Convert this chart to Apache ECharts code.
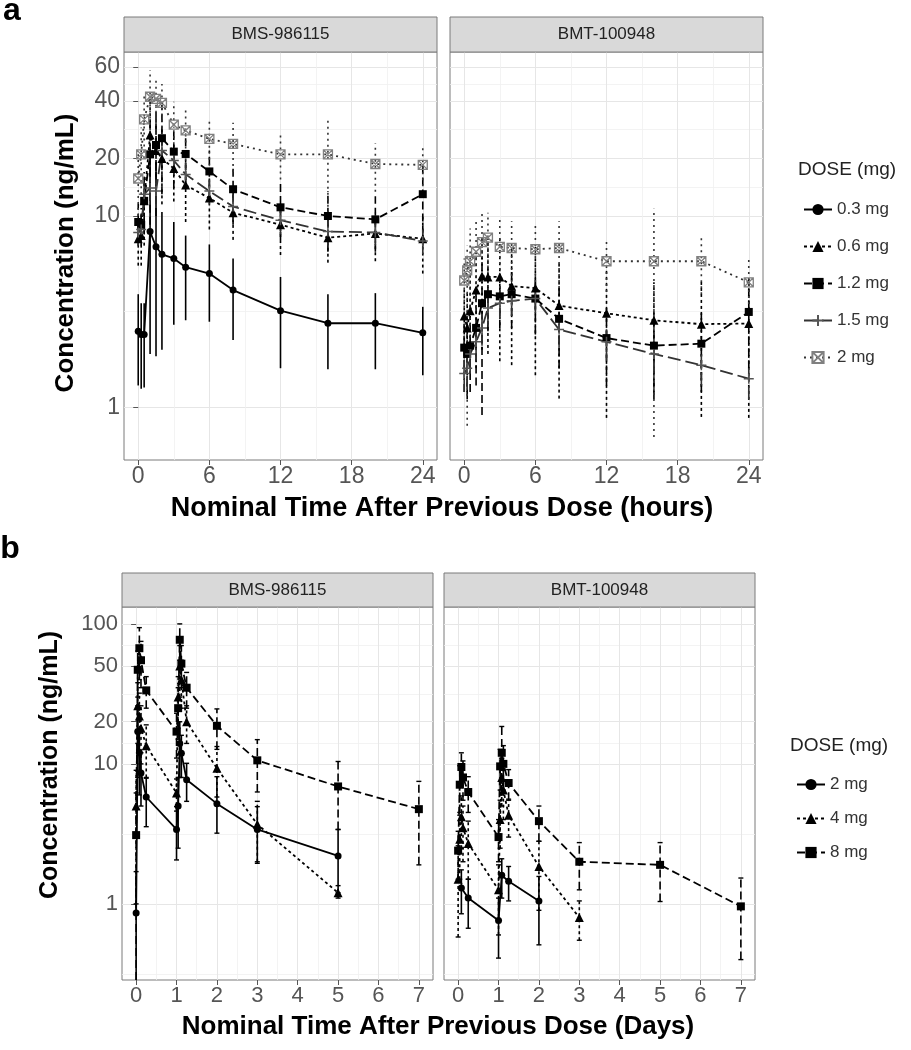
<!DOCTYPE html>
<html><head><meta charset="utf-8">
<script src="https://cdn.jsdelivr.net/npm/echarts@6/dist/echarts.min.js"></script>
<style>html,body{margin:0;padding:0;background:#fff}#c{width:911px;height:1050px}</style>
</head><body><div id="c"></div>
<script>
const FONT = '"Liberation Sans", Arial, Helvetica, sans-serif';

// ---------- Panel a : hours ----------
const timesA = [0, 0.25, 0.5, 1, 1.5, 2, 3, 4, 6, 8, 12, 16, 20, 24];
const xTicksA = [0, 6, 12, 18, 24];
const xMinorA = [3, 9, 15, 21];
const yTicksA = [1, 10, 20, 40, 60];
const yMinorA = [3.16, 14.1, 28.3, 49];
const dosesA = ['0.3 mg', '0.6 mg', '1.2 mg', '1.5 mg', '2 mg'];

// BMS-986115 (panel a)
const a_bms_03_mean = [2.5, 2.4, 2.4, 8.3, 6.9, 6.3, 6.0, 5.4, 5.0, 4.1, 3.2, 2.75, 2.75, 2.45];
const a_bms_03_lo   = [1.3, 1.25, 1.27, 1.9, 1.85, 2.0, 2.7, 2.85, 2.8, 2.25, 1.6, 1.58, 1.58, 1.47];
const a_bms_03_hi   = [3.9, 3.5, 3.5, 22, 19, 10.5, 9.3, 7.9, 7.1, 6.0, 4.8, 3.9, 3.95, 3.35];
const a_bms_06_mean = [7.6, 7.9, 12, 26.5, 22, 20, 17.7, 14.5, 12.4, 10.4, 9.0, 7.7, 8.1, 7.6];
const a_bms_06_lo   = [5.5, 5.5, 7, 13, 12, 11.5, 11.9, 9.3, 8.5, 7.5, 6.25, 5.7, 5.8, 5.0];
const a_bms_06_hi   = [9.7, 10.3, 17, 40, 32, 28.5, 23.5, 19.7, 16.3, 13.3, 11.7, 9.7, 10.4, 10.2];
const a_bms_12_mean = [9.3, 9.0, 12, 21, 23.5, 25.5, 21.7, 21.1, 17.1, 13.8, 11.1, 10.0, 9.6, 13.0];
const a_bms_12_lo   = [7, 7, 8, 9, 10, 13, 14, 15, 12, 9, 7.5, 6.5, 6.5, 7];
const a_bms_12_hi   = [11.6, 11, 16, 33, 37, 38, 29, 27, 22, 18.6, 14.7, 13.5, 12.7, 19];
const a_bms_15_mean = [8.2, 8.5, 13, 14, 13.5, 22, 19.5, 16.5, 13.5, 11.2, 9.5, 8.3, 8.2, 7.4];
const a_bms_15_lo   = [7, 7.2, 11, 12, 11.5, 19, 16.5, 14, 11.5, 9.5, 8, 7, 7, 6.3];
const a_bms_15_hi   = [9.4, 9.8, 15, 16, 15.5, 25, 22.5, 19, 15.5, 12.9, 11, 9.6, 9.4, 8.5];
const a_bms_2_mean  = [15.7, 21, 32, 42, 41, 39, 30, 28, 25.3, 23.8, 21, 21, 18.7, 18.5];
const a_bms_2_lo    = [10, 13, 20, 26, 30, 29, 20.5, 19.5, 18.3, 17, 15.5, 9, 13.4, 14.3];
const a_bms_2_hi    = [21, 29, 44, 58, 52, 49, 39.6, 36.3, 32.4, 30.7, 26.5, 33, 24, 22.7];

// BMT-100948 (panel a)
const a_bmt_06_mean = [3.0, 2.6, 3.2, 4.1, 4.85, 4.8, 4.8, 4.3, 4.2, 3.4, 3.1, 2.85, 2.72, 2.74];
const a_bmt_06_lo   = [1.8, 1.2, 1.5, 1.6, 2.0, 1.9, 1.74, 1.66, 1.47, 1.11, 0.88, 1.2, 0.89, 0.88];
const a_bmt_06_hi   = [4.2, 4.0, 4.9, 6.6, 7.7, 7.7, 7.9, 6.9, 6.9, 5.7, 5.3, 4.5, 4.55, 4.6];
const a_bmt_12_mean = [2.05, 1.9, 2.1, 2.6, 3.5, 3.9, 3.8, 3.9, 3.7, 2.9, 2.3, 2.1, 2.15, 3.15];
const a_bmt_12_lo   = [1.2, 1.1, 1.2, 1.3, 0.91, 2.5, 2.6, 2.6, 2.4, 1.6, 1.3, 1.1, 1.2, 1.6];
const a_bmt_12_hi   = [2.9, 2.7, 3.0, 3.9, 6.1, 5.3, 5.0, 5.2, 5.0, 4.2, 3.3, 3.1, 3.1, 4.7];
const a_bmt_15_mean = [1.5, 1.6, 1.9, 2.2, 2.6, 3.3, 3.5, 3.6, 3.7, 2.55, 2.2, 1.9, 1.66, 1.41];
const a_bmt_15_lo   = [1.2, 1.25, 1.5, 1.75, 2.1, 2.7, 2.9, 3.0, 3.1, 2.05, 1.75, 1.5, 1.3, 1.1];
const a_bmt_15_hi   = [1.8, 1.95, 2.3, 2.65, 3.1, 3.9, 4.1, 4.2, 4.3, 3.05, 2.65, 2.3, 2.0, 1.7];
const a_bmt_2_mean  = [4.6, 5.2, 5.8, 6.5, 7.3, 7.7, 6.9, 6.8, 6.7, 6.8, 5.8, 5.8, 5.8, 4.5];
const a_bmt_2_lo    = [1.5, 0.8, 1.5, 3.3, 4.2, 5.0, 4.2, 4.2, 4.2, 4.2, 4.0, 0.7, 3.9, 3.0];
const a_bmt_2_hi    = [6.0, 7.0, 8.6, 9.7, 10.4, 10.4, 9.6, 9.4, 9.2, 9.4, 7.6, 10.9, 7.7, 6.0];

// ---------- Panel b : days ----------
const timesB = [0, 0.04, 0.08, 0.12, 0.25, 1, 1.04, 1.08, 1.12, 1.25, 2, 3, 5, 7];
const timesB_bmt2 = [0.08, 0.25, 1, 1.08, 1.25, 2];
const xTicksB = [0, 1, 2, 3, 4, 5, 6, 7];
const xMinorB = [0.5, 1.5, 2.5, 3.5, 4.5, 5.5, 6.5];
const yTicksB = [1, 10, 20, 50, 100];
const yMinorB = [0.316, 3.16, 14.1, 31.6, 70.7];
const dosesB = ['2 mg ', '4 mg', '8 mg'];

const b_bms_2_mean = [0.86, 17, 12, 8.6, 5.8, 3.4, 5, 14, 11.9, 7.7, 5.2, 3.4, 2.2];
const b_bms_2_lo   = [0, 8, 6, 5, 3.56, 2.06, 2.5, 8, 8, 5.4, 3.2, 1.95, 1.2];
const b_bms_2_hi   = [1.7, 26, 18, 12, 7.9, 4.95, 8, 20, 16, 10.1, 8.1, 4.95, 3.4];
const b_bms_4_mean = [5, 26, 22, 18, 13.5, 6.2, 30, 50, 40, 20, 9.3, 3.7, 1.2];
const b_bms_4_lo   = [1, 14, 12, 10, 8, 4.6, 18, 30, 25, 14, 5.8, 2.0, 1.1];
const b_bms_4_hi   = [9, 38, 32, 26, 19, 7.8, 42, 70, 55, 26, 13.3, 5.4, 1.35];
const b_bms_8_mean = [3.1, 47, 67, 55, 33.5, 17, 25, 77, 52, 35, 18.7, 10.6, 6.9, 4.75];
const b_bms_8_lo   = [0, 30, 40, 35, 25, 11, 15, 55, 35, 25, 12.7, 6.3, 3.4, 1.9];
const b_bms_8_hi   = [6.2, 64, 94, 75, 42, 23, 35, 100, 70, 45, 24.7, 14.9, 10.4, 7.5];

const b_bmt_2_mean = [1.3, 1.1, 0.76, 1.6, 1.45, 1.05];
const b_bmt_2_lo   = [0.85, 0.67, 0.41, 1.1, 1.05, 0.51];
const b_bmt_2_hi   = [1.75, 1.5, 1.1, 2.1, 1.85, 1.57];
const b_bmt_4_mean = [1.5, 2.9, 4.2, 3.5, 2.7, 1.26, 4, 8, 6.5, 4.3, 1.85, 0.8];
const b_bmt_4_lo   = [0.58, 1.5, 2.5, 2.0, 1.5, 0.6, 2.5, 5, 4, 3.0, 0.9, 0.55];
const b_bmt_4_hi   = [2.6, 4.3, 5.9, 5.0, 3.9, 1.9, 5.5, 11, 9, 5.6, 2.8, 1.05];
const b_bmt_8_mean = [2.4, 7.1, 9.5, 8, 6.3, 3.0, 9.6, 12, 10, 7.3, 3.9, 2.0, 1.9, 0.96];
const b_bmt_8_lo   = [1.5, 4.5, 7, 5.5, 4.5, 2.0, 6.5, 6, 6.5, 5.5, 2.8, 1.26, 1.04, 0.4];
const b_bmt_8_hi   = [3.3, 9.7, 12, 10.5, 8.1, 4.0, 12.7, 18.5, 13.5, 9.1, 5.0, 2.74, 2.74, 1.53];

// ---------- styles ----------
const SYM_PLUS = 'path://M5,0V10M0,5H10';
const SYM_SQX = 'path://M0,0H10V10H0ZM0,0L10,10M10,0L0,10';
const STY = {
  '0.3 mg': {symbol: 'circle', size: 7, fill: '#000', stroke: '#000', line: '#000', dash: 'solid'},
  '0.6 mg': {symbol: 'triangle', size: 9, fill: '#000', stroke: '#000', line: '#000', dash: [3, 3]},
  '1.2 mg': {symbol: 'rect', size: 8, fill: '#000', stroke: '#000', line: '#000', dash: [8, 4]},
  '1.5 mg': {symbol: SYM_PLUS, size: 10, fill: 'rgba(0,0,0,0)', stroke: '#555', line: '#333', dash: [13, 5], bw: 1.5},
  '2 mg':   {symbol: SYM_SQX, size: 9, fill: 'rgba(0,0,0,0)', stroke: '#808080', line: '#333', dash: [2, 4], bw: 1.3},
  '2 mg ':  {symbol: 'circle', size: 7, fill: '#000', stroke: '#000', line: '#000', dash: 'solid'},
  '4 mg':   {symbol: 'triangle', size: 9, fill: '#000', stroke: '#000', line: '#000', dash: [3, 3]},
  '8 mg':   {symbol: 'rect', size: 8, fill: '#000', stroke: '#000', line: '#000', dash: [8, 4]}
};

// ---------- layout ----------
const GRIDS = [
  {left: 124, top: 52, width: 313, height: 408},
  {left: 450, top: 52, width: 313, height: 408},
  {left: 122, top: 607, width: 311, height: 373},
  {left: 444, top: 607, width: 311, height: 373}
];
const YMIN_A = 0.53, YMAX_A = 72, YMIN_B = 0.286, YMAX_B = 132;

function xAxes(gi, min, max, ticks, minor, fs) {
  return [
    {type: 'value', gridIndex: gi, min, max, axisLine: {show: false},
     axisTick: {show: true, length: 5, lineStyle: {color: '#555', width: 1}, customValues: ticks},
     axisLabel: {customValues: ticks, color: '#555', fontSize: fs, fontFamily: FONT, margin: 5},
     splitLine: {show: true, lineStyle: {color: '#e6e6e6', width: 1}}},
    {type: 'value', gridIndex: gi, min, max, position: 'bottom', axisLine: {show: false},
     axisTick: {show: false, customValues: minor},
     axisLabel: {show: false, customValues: minor},
     splitLine: {show: true, lineStyle: {color: '#f0f0f0', width: 0.8}}}
  ];
}
function yAxes(gi, min, max, ticks, minor, fs, showLab) {
  return [
    {type: 'log', logBase: 10, gridIndex: gi, min, max, axisLine: {show: false},
     axisTick: {show: showLab, length: 5, lineStyle: {color: '#555', width: 1}, customValues: ticks},
     axisLabel: {show: showLab, customValues: ticks, color: '#555', fontSize: fs, fontFamily: FONT, margin: 4},
     splitLine: {show: true, lineStyle: {color: '#e6e6e6', width: 1}}},
    {type: 'log', logBase: 10, gridIndex: gi, min, max, position: 'left', axisLine: {show: false},
     axisTick: {show: false, customValues: minor},
     axisLabel: {show: false, customValues: minor},
     splitLine: {show: true, lineStyle: {color: '#f0f0f0', width: 0.8}}}
  ];
}

const series = [];
function add(gi, name, times, mean, lo, hi, yMin, cap) {
  const s = STY[name];
  const t = times.slice(0, mean.length);
  series.push({
    type: 'custom', name: name + '_err', xAxisIndex: gi * 2, yAxisIndex: gi * 2,
    silent: true, z: 2, clip: true,
    data: t.map((x, i) => [x, Math.max(lo[i], yMin), hi[i], lo[i] > yMin ? 1 : 0]),
    encode: {x: 0, y: [1, 2]},
    renderItem(params, api) {
      const x = api.value(0);
      const a = api.coord([x, api.value(1)]);
      const b = api.coord([x, api.value(2)]);
      const st = {stroke: s.line, lineWidth: 1.6, lineDash: s.dash === 'solid' ? null : s.dash};
      const ch = [{type: 'line', shape: {x1: a[0], y1: a[1], x2: b[0], y2: b[1]}, style: st}];
      if (cap) {
        ch.push({type: 'line', shape: {x1: b[0] - cap, y1: b[1], x2: b[0] + cap, y2: b[1]}, style: {stroke: s.line, lineWidth: 1.4}});
        if (api.value(3)) ch.push({type: 'line', shape: {x1: a[0] - cap, y1: a[1], x2: a[0] + cap, y2: a[1]}, style: {stroke: s.line, lineWidth: 1.4}});
      }
      return {type: 'group', children: ch};
    }
  });
  series.push({
    type: 'line', name, xAxisIndex: gi * 2, yAxisIndex: gi * 2, z: 3,
    data: t.map((x, i) => [x, mean[i]]),
    symbol: s.symbol, symbolSize: s.size, showSymbol: true,
    lineStyle: {color: s.line, width: 1.8, type: s.dash},
    itemStyle: {color: s.fill, borderColor: s.stroke, borderWidth: s.bw || 0},
    emphasis: {disabled: true}
  });
}

add(0, '0.3 mg', timesA, a_bms_03_mean, a_bms_03_lo, a_bms_03_hi, YMIN_A, 0);
add(0, '0.6 mg', timesA, a_bms_06_mean, a_bms_06_lo, a_bms_06_hi, YMIN_A, 0);
add(0, '1.2 mg', timesA, a_bms_12_mean, a_bms_12_lo, a_bms_12_hi, YMIN_A, 0);
add(0, '1.5 mg', timesA, a_bms_15_mean, a_bms_15_lo, a_bms_15_hi, YMIN_A, 0);
add(0, '2 mg',   timesA, a_bms_2_mean,  a_bms_2_lo,  a_bms_2_hi,  YMIN_A, 0);
add(1, '0.6 mg', timesA, a_bmt_06_mean, a_bmt_06_lo, a_bmt_06_hi, YMIN_A, 0);
add(1, '1.2 mg', timesA, a_bmt_12_mean, a_bmt_12_lo, a_bmt_12_hi, YMIN_A, 0);
add(1, '1.5 mg', timesA, a_bmt_15_mean, a_bmt_15_lo, a_bmt_15_hi, YMIN_A, 0);
add(1, '2 mg',   timesA, a_bmt_2_mean,  a_bmt_2_lo,  a_bmt_2_hi,  YMIN_A, 0);
add(2, '2 mg ',  timesB, b_bms_2_mean, b_bms_2_lo, b_bms_2_hi, YMIN_B, 2.5);
add(2, '4 mg',   timesB, b_bms_4_mean, b_bms_4_lo, b_bms_4_hi, YMIN_B, 2.5);
add(2, '8 mg',   timesB, b_bms_8_mean, b_bms_8_lo, b_bms_8_hi, YMIN_B, 2.5);
add(3, '2 mg ',  timesB_bmt2, b_bmt_2_mean, b_bmt_2_lo, b_bmt_2_hi, YMIN_B, 2.5);
add(3, '4 mg',   timesB, b_bmt_4_mean, b_bmt_4_lo, b_bmt_4_hi, YMIN_B, 2.5);
add(3, '8 mg',   timesB, b_bmt_8_mean, b_bmt_8_lo, b_bmt_8_hi, YMIN_B, 2.5);

const xAxis = [].concat(
  xAxes(0, -1.2, 25.2, xTicksA, xMinorA, 23),
  xAxes(1, -1.2, 25.2, xTicksA, xMinorA, 23),
  xAxes(2, -0.35, 7.35, xTicksB, xMinorB, 22),
  xAxes(3, -0.35, 7.35, xTicksB, xMinorB, 22)
);
const yAxis = [].concat(
  yAxes(0, YMIN_A, YMAX_A, yTicksA, yMinorA, 23, true),
  yAxes(1, YMIN_A, YMAX_A, yTicksA, yMinorA, 23, false),
  yAxes(2, YMIN_B, YMAX_B, yTicksB, yMinorB, 22, true),
  yAxes(3, YMIN_B, YMAX_B, yTicksB, yMinorB, 22, false)
);

function strip(g, y, h, text, fs) {
  return [
    {type: 'rect', shape: {x: g.left, y: y, width: g.width, height: h}, style: {fill: '#d9d9d9', stroke: '#7a7a7a', lineWidth: 1}, z: 10},
    {type: 'text', x: g.left + g.width / 2, y: y + h / 2, z: 11,
     style: {text, font: fs + 'px ' + FONT, fill: '#222', textAlign: 'center', textVerticalAlign: 'middle'}}
  ];
}
function txt(x, y, text, font, rot, fill) {
  return {type: 'text', x, y, rotation: rot || 0, z: 11,
    style: {text, font: font, fill: fill || '#000', textAlign: 'center', textVerticalAlign: 'middle'}};
}

const graphic = [].concat(
  strip(GRIDS[0], 17, 35, 'BMS-986115', 17),
  strip(GRIDS[1], 17, 35, 'BMT-100948', 17),
  strip(GRIDS[2], 573, 34, 'BMS-986115', 17),
  strip(GRIDS[3], 573, 34, 'BMT-100948', 17),
  [
    txt(12, 11, 'a', 'bold 32px ' + FONT),
    txt(10, 549, 'b', 'bold 32px ' + FONT),
    txt(442, 509, 'Nominal Time After Previous Dose (hours)', 'bold 27px ' + FONT),
    txt(438, 1027, 'Nominal Time After Previous Dose (Days)', 'bold 26px ' + FONT),
    txt(66, 253, 'Concentration (ng/mL)', 'bold 26px ' + FONT, Math.PI / 2),
    txt(50, 765, 'Concentration (ng/mL)', 'bold 25px ' + FONT, Math.PI / 2),
    {type: 'text', x: 798, y: 170, z: 11, style: {text: 'DOSE (mg)', font: '19px ' + FONT, fill: '#222', textAlign: 'left', textVerticalAlign: 'middle'}},
    {type: 'text', x: 790, y: 746, z: 11, style: {text: 'DOSE (mg)', font: '19px ' + FONT, fill: '#222', textAlign: 'left', textVerticalAlign: 'middle'}}
  ]
);

const chart = echarts.init(document.getElementById('c'), null, {renderer: 'canvas'});
chart.setOption({
  animation: false,
  backgroundColor: '#fff',
  grid: GRIDS.map(g => Object.assign({show: true, borderColor: '#7a7a7a', borderWidth: 1, backgroundColor: '#fff', containLabel: false}, g)),
  xAxis, yAxis,
  legend: [
    {data: dosesA, orient: 'vertical', left: 798, top: 196, itemWidth: 28, itemHeight: 14, itemGap: 20,
     selectedMode: false, textStyle: {fontSize: 17, color: '#333', fontFamily: FONT}},
    {data: dosesB, orient: 'vertical', left: 791, top: 771, itemWidth: 28, itemHeight: 14, itemGap: 17,
     selectedMode: false, textStyle: {fontSize: 17, color: '#333', fontFamily: FONT}}
  ],
  graphic,
  series
});
</script></body></html>
